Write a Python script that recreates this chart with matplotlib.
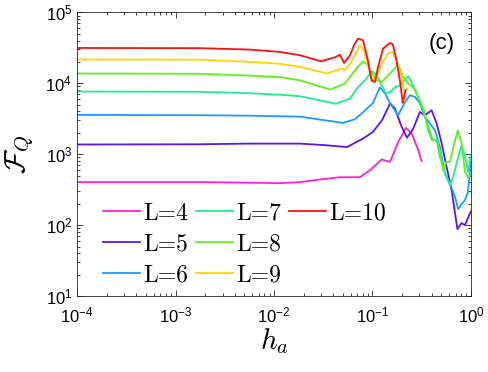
import matplotlib
matplotlib.use("Agg")
import matplotlib.pyplot as plt
from matplotlib.lines import Line2D

plt.rcParams["font.family"] = ["Liberation Sans", "DejaVu Sans"]
plt.rcParams["mathtext.fontset"] = "cm"

# ---- data: field h_a and QFI F_Q for each chain length L ----
h_L4 = [1e-4, 0.00177, 0.0057, 0.0115, 0.0184, 0.0293, 0.0468, 0.0746, 0.0944,
        0.124, 0.151, 0.183, 0.219, 0.250, 0.292, 0.315]
F_L4 = [404, 404, 397, 391, 404, 440, 474, 474, 595,
        842, 780, 1490, 2350, 1960, 1140, 797]

h_L5 = [1e-4, 0.00177, 0.0057, 0.0184, 0.0330, 0.0551, 0.0802, 0.101, 0.125,
        0.151, 0.169, 0.195, 0.224, 0.258, 0.303, 0.341, 0.399, 0.449, 0.505,
        0.566, 0.637, 0.689, 0.729, 0.802, 0.869, 0.933, 1.0]
F_L5 = [1370, 1380, 1410, 1410, 1340, 1260, 1660, 2060, 3010,
        5180, 4440, 2560, 1710, 2250, 3940, 3540, 4160, 2710, 1420,
        663, 311, 148, 88, 107, 100, 126, 157]

h_L6 = [1e-4, 0.00177, 0.0057, 0.0184, 0.0503, 0.0664, 0.0802, 0.101, 0.119,
        0.134, 0.151, 0.182, 0.214, 0.240, 0.270, 0.303, 0.341, 0.384, 0.431,
        0.484, 0.545, 0.612, 0.689, 0.743, 0.805, 0.869, 0.933, 1.0]
F_L6 = [3580, 3540, 3490, 3380, 2760, 3110, 3900, 5230, 8780,
        7230, 5230, 3540, 5400, 6780, 6410, 5230, 3350, 2710, 2180,
        1270, 535, 387, 250, 168, 198, 225, 292, 879]

h_L7 = [1e-4, 0.00177, 0.0057, 0.0115, 0.0184, 0.0426, 0.0592, 0.0697, 0.0839,
        0.0989, 0.111, 0.122, 0.137, 0.151, 0.169, 0.190, 0.214, 0.232, 0.258,
        0.290, 0.326, 0.366, 0.402, 0.452, 0.484, 0.545, 0.612, 0.661, 0.743,
        0.805, 0.869, 0.940, 1.0]
F_L7 = [7640, 7570, 7230, 6890, 6560, 5140, 6090, 8500, 11000,
        14800, 13000, 9680, 7230, 7470, 8780, 9370, 11400, 12600, 9370,
        6350, 4160, 2560, 1660, 1490, 916, 535, 366, 479, 916,
        1340, 916, 563, 968]

h_L8 = [1e-4, 0.00177, 0.0057, 0.0115, 0.0184, 0.0371, 0.0526, 0.0664, 0.0802,
        0.0879, 0.0989, 0.111, 0.125, 0.140, 0.169, 0.182, 0.204, 0.229, 0.270,
        0.303, 0.333, 0.366, 0.402, 0.452, 0.496, 0.524, 0.563, 0.612, 0.689,
        0.738, 0.805, 0.869, 0.933, 1.0]
F_L8 = [13700, 13600, 12800, 12200, 11000, 8150, 9900, 15200, 20400,
        18500, 13700, 11000, 10400, 12300, 16300, 18500, 12600, 10000, 8230,
        5760, 4160, 2180, 1570, 1570, 968, 595, 780, 780, 1570,
        2180, 1430, 558, 474, 506]

h_L9 = [1e-4, 0.00177, 0.0057, 0.0115, 0.0184, 0.0345, 0.0447, 0.0489, 0.0526,
        0.0592, 0.0664, 0.0746, 0.0821, 0.0920, 0.101, 0.110, 0.124, 0.144,
        0.161, 0.176, 0.198, 0.209, 0.219, 0.225]
F_L9 = [21600, 21500, 20000, 18800, 17000, 13700, 15500, 16100, 15200,
        18900, 24800, 34300, 29200, 16100, 11000, 12300, 18900, 26200,
        27600, 21100, 12300, 7540, 8150, 8420]

h_L10 = [1e-4, 0.00177, 0.0057, 0.0115, 0.0184, 0.030, 0.0416, 0.0468, 0.0514,
         0.0592, 0.0649, 0.0713, 0.0802, 0.0899, 0.0977, 0.106, 0.114, 0.128,
         0.151, 0.161, 0.175, 0.190, 0.203, 0.210, 0.217]
F_L10 = [31400, 31200, 29800, 27600, 24800, 20400, 23200, 25200, 19300,
         24800, 34300, 42600, 40300, 21100, 11000, 10400, 17000, 30800,
         37000, 35400, 21100, 11000, 5280, 6410, 7970]

series = [
    ("L=4", h_L4, F_L4, "#ff1fd0"),
    ("L=5", h_L5, F_L5, "#5a14f0"),
    ("L=6", h_L6, F_L6, "#1a9cff"),
    ("L=7", h_L7, F_L7, "#1eef8c"),
    ("L=8", h_L8, F_L8, "#5ef01e"),
    ("L=9", h_L9, F_L9, "#ffd400"),
    ("L=10", h_L10, F_L10, "#ff1010"),
]

fig = plt.figure(figsize=(4.88, 3.72), dpi=100)
ax = fig.add_axes([0.158, 0.204, 0.807, 0.763])

lines = []
labels = []
for name, h, F, c in series:
    ln, = ax.plot(h, F, color=c, linewidth=1.3)
    lines.append(ln)
    labels.append(name)

ax.set_xscale("log")
ax.set_yscale("log")
ax.set_xlim(1e-4, 1)
ax.set_ylim(10, 1e5)

ax.tick_params(which="both", direction="in", top=True, right=True,
               labelsize=12, color="#262626", width=0.6)
ax.tick_params(which="major", length=4)
ax.tick_params(which="minor", length=2)
ax.tick_params(axis="x", pad=7)
for s in ax.spines.values():
    s.set_linewidth(0.6)
    s.set_color("#262626")

ax.set_xlabel(r"$h_a$", fontsize=21, labelpad=0)
ax.set_ylabel(r"$\mathcal{F}_Q$", fontsize=21, labelpad=7)

ax.text(0.926, 0.891, "(c)", transform=ax.transAxes, fontsize=16,
        ha="center", va="center")

# 3 columns filled column-wise: pad with blanks so col3 has only L=10
blank = Line2D([], [], color="none")
lines += [blank, blank]
labels += ["", ""]
ax.legend(lines, labels, ncol=3, loc="upper left", bbox_to_anchor=(0.03, 0.38),
          frameon=False, prop={"family": "cmr10", "size": 17},
          handlelength=1.57, handletextpad=0.13,
          columnspacing=0.34, labelspacing=0.38, borderpad=0.1)

fig.savefig("out.png", dpi=100)
